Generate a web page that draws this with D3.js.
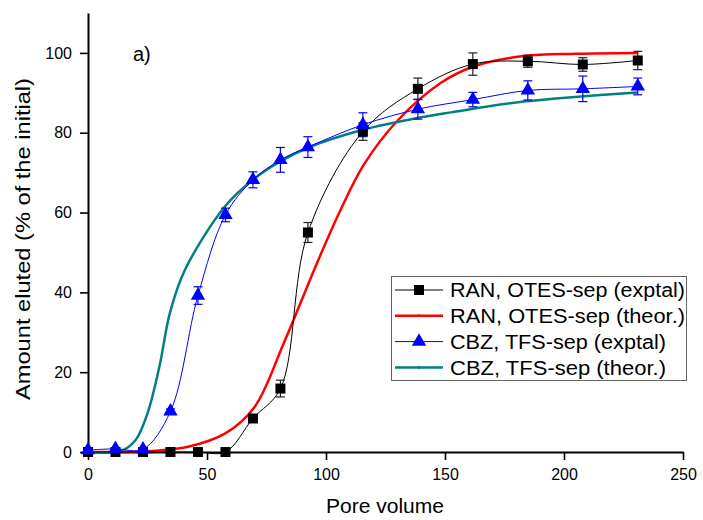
<!DOCTYPE html>
<html>
<head>
<meta charset="utf-8">
<script src="https://cdn.jsdelivr.net/npm/d3@7"></script>
<style>
  body { margin: 0; background: #fff; }
  svg { font-family: "Liberation Sans", Arial, sans-serif; }
</style>
</head>
<body>
<svg id="svg"></svg>
<script>
const width = 703;
const height = 520;

// pore volumes of the samples
const poreVol = [0, 11.55, 23.1, 34.65, 46.2, 57.75, 69.3, 80.85, 92.4, 115.5, 138.6, 161.7, 184.8, 207.9, 231];

// RAN, OTES-sep (exptal)
const ranExp = [0, 0, 0, 0, 0, 0, 8.4, 15.9, 55.0, 80.3, 91.0, 97.2, 97.9, 97.1, 98.1];
const ranErr = [0, 0, 0, 0, 0, 0, 0.5, 2.1, 2.5, 2.2, 2.7, 2.8, 1.5, 1.7, 2.3];

// CBZ, TFS-sep (exptal)
const cbzExp = [0.5, 0.8, 0.7, 10.2, 39.2, 59.4, 68.2, 73.2, 76.4, 82.0, 85.9, 88.3, 90.6, 91.0, 91.6];
const cbzErr = [0, 0, 0, 0.6, 2.2, 1.7, 2.0, 3.1, 2.6, 3.0, 2.5, 1.8, 2.4, 3.2, 2.1];

// RAN, OTES-sep (theor.)
const ranTheoX = [0, 14, 30, 42, 57.5, 70, 82.2, 96.2, 106, 115.9, 130, 148, 162, 183, 205, 231];
const ranTheoY = [0, 0, 0.4, 1.3, 4.6, 11.3, 27.2, 47.3, 60.5, 72.0, 83.0, 92.4, 96.6, 99.2, 99.8, 100];

// CBZ, TFS-sep (theor.)
const cbzTheoX = [0, 14, 20, 25, 30, 34.4, 40.7, 57.5, 68.4, 80.8, 92.6, 115.9, 138.3, 152.4, 183, 231];
const cbzTheoY = [0, 0.3, 3.0, 9.7, 21.4, 34.8, 45.6, 61.5, 67.8, 72.8, 76.3, 80.8, 83.7, 85.1, 87.8, 90.1];

const xMajor = [0, 50, 100, 150, 200, 250];
const xMinor = [25, 75, 125, 175, 225];
const yMajor = [0, 20, 40, 60, 80, 100];
const yMinor = [10, 30, 50, 70, 90, 110];

const legendLabels = ["RAN, OTES-sep (exptal)", "RAN, OTES-sep (theor.)", "CBZ, TFS-sep (exptal)", "CBZ, TFS-sep (theor.)"];

let svg = d3.select("#svg").attr("width", width).attr("height", height);

const xScale = d3.scaleLinear().domain([0, 250]).range([88, 683]);
const yScale = d3.scaleLinear().domain([0, 110]).range([452, 13]);

function drawAxes() {
    const gx = svg.append("g").attr("transform", `translate(0,${yScale(0)})`);
    gx.call(d3.axisBottom(xScale).tickValues(xMinor).tickSize(5).tickFormat(""));
    gx.call(d3.axisBottom(xScale).tickValues(xMajor).tickSize(8).tickPadding(9).tickSizeOuter(0));
    gx.selectAll("text").attr("font-size", "16px").attr("fill", "#000").attr("font-family", "Liberation Sans, Arial, sans-serif");

    const gy = svg.append("g").attr("transform", `translate(${xScale(0)},0)`);
    gy.call(d3.axisLeft(yScale).tickValues(yMinor).tickSize(5).tickFormat(""));
    gy.call(d3.axisLeft(yScale).tickValues(yMajor).tickSize(8).tickPadding(8).tickSizeOuter(0));
    gy.selectAll("text").attr("font-size", "16px").attr("fill", "#000").attr("font-family", "Liberation Sans, Arial, sans-serif");

    svg.selectAll(".domain").attr("stroke", "#000").attr("stroke-width", 2);
    svg.selectAll(".tick line").attr("stroke", "#000").attr("stroke-width", 1.6);

    svg.append("text")
        .attr("x", 385)
        .attr("y", 513)
        .attr("text-anchor", "middle")
        .attr("font-size", "21px")
        .text("Pore volume");

    svg.append("text")
        .attr("transform", `translate(30,239) rotate(-90)`)
        .attr("text-anchor", "middle")
        .attr("font-size", "20px")
        .attr("textLength", 322)
        .attr("lengthAdjust", "spacingAndGlyphs")
        .text("Amount eluted (% of the initial)");

    svg.append("text")
        .attr("x", 133)
        .attr("y", 61)
        .attr("font-size", "20px")
        .text("a)");
}

function drawCurve(xs, ys, colour, w, curve) {
    const pts = xs.map((d, i) => [d, ys[i]]);
    const line = d3.line()
        .x(d => xScale(d[0]))
        .y(d => yScale(d[1]))
        .curve(curve);
    svg.append("path")
        .datum(pts)
        .attr("d", line)
        .attr("fill", "none")
        .attr("stroke", colour)
        .attr("stroke-width", w);
}

function drawErrors(xs, ys, errs, colour) {
    const pts = xs.map((d, i) => ({ x: d, y: ys[i], e: errs[i] })).filter(d => d.e > 0);
    const g = svg.append("g").attr("stroke", colour).attr("stroke-width", 1.2);
    g.selectAll(".v").data(pts).join("line")
        .attr("x1", d => xScale(d.x)).attr("x2", d => xScale(d.x))
        .attr("y1", d => yScale(d.y - d.e)).attr("y2", d => yScale(d.y + d.e));
    [-1, 1].forEach(s => {
        g.selectAll(".c" + s).data(pts).join("line")
            .attr("x1", d => xScale(d.x) - 4.5).attr("x2", d => xScale(d.x) + 4.5)
            .attr("y1", d => yScale(d.y + s * d.e)).attr("y2", d => yScale(d.y + s * d.e));
    });
}

function drawMarkers(xs, ys, type, size, colour) {
    const sym = d3.symbol().type(type).size(size);
    svg.append("g").selectAll("path")
        .data(xs.map((d, i) => [d, ys[i]]))
        .join("path")
        .attr("d", sym)
        .attr("transform", d => `translate(${xScale(d[0])},${yScale(d[1])})`)
        .attr("fill", colour);
}

function drawLegend() {
    const g = svg.append("g");
    g.append("rect")
        .attr("x", 391.5).attr("y", 276.5)
        .attr("width", 295).attr("height", 104)
        .attr("fill", "#fff")
        .attr("stroke", "#666")
        .attr("stroke-width", 1);
    const colours = ["#000", "#ff0000", "#0000ff", "#008080"];
    const widths = [1, 2.5, 1, 2.5];
    const syms = [d3.symbolSquare, d3.symbolSquare, d3.symbolTriangle, d3.symbolTriangle];
    const sizes = [100, 6, 90, 6];
    const lens = [235, 235, 216, 216];
    legendLabels.forEach((label, i) => {
        const y = 290 + i * 25.8;
        g.append("line")
            .attr("x1", 395).attr("x2", 443)
            .attr("y1", y).attr("y2", y)
            .attr("stroke", colours[i]).attr("stroke-width", widths[i]);
        g.append("path")
            .attr("d", d3.symbol().type(syms[i]).size(sizes[i])())
            .attr("transform", `translate(419,${y})${i === 3 ? " rotate(180)" : ""}`)
            .attr("fill", colours[i]);
        g.append("text")
            .attr("x", 450).attr("y", y)
            .attr("dy", "0.36em")
            .attr("font-size", "20px")
            .attr("textLength", lens[i])
            .attr("lengthAdjust", "spacingAndGlyphs")
            .text(label);
    });
}

drawAxes();
drawCurve(ranTheoX, ranTheoY, "#ff0000", 2.5, d3.curveCatmullRom.alpha(0.5));
drawCurve(cbzTheoX, cbzTheoY, "#008080", 2.5, d3.curveCatmullRom.alpha(0.5));
drawCurve(poreVol, ranExp, "#000", 1, d3.curveCatmullRom.alpha(0.5));
drawCurve(poreVol, cbzExp, "#0000ff", 1, d3.curveCatmullRom.alpha(0.5));
drawErrors(poreVol, ranExp, ranErr, "#222");
drawErrors(poreVol, cbzExp, cbzErr, "#0000ff");
drawMarkers(poreVol, ranExp, d3.symbolSquare, 100, "#000");
drawMarkers(poreVol, cbzExp, d3.symbolTriangle, 90, "#0000ff");
drawLegend();
</script>
</body>
</html>
